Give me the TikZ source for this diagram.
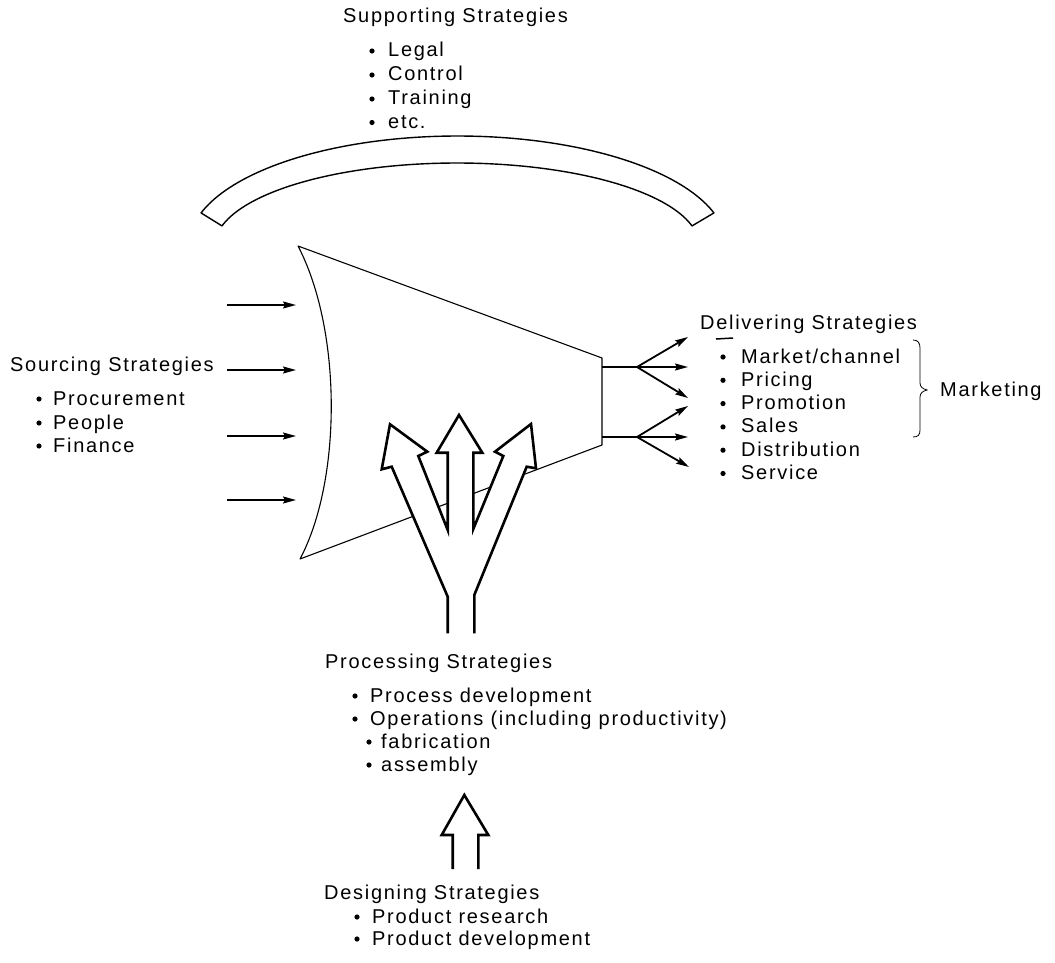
\documentclass[tikz,border=0pt]{standalone}
\usepackage{fontspec}
\setmainfont{Liberation Sans}[LetterSpace=8.5]
\usetikzlibrary{arrows.meta}

\begin{document}
\begin{tikzpicture}[x=1pt,y=-1pt,
  txt/.style={font=\fontsize{20}{23}\selectfont, inner sep=0pt, anchor=base west},
  feed/.style={line width=1.8pt, -{Stealth[length=13pt,width=7pt,inset=2pt]}},
  stub/.style={line width=1.8pt},
  thin line/.style={line width=1.1pt, line join=round},
  band/.style={line width=1.4pt, line join=round},
  fat arrow/.style={line width=2.6pt, fill=white, line join=miter, miter limit=10},
  bulletdot/.style={fill=black}
]
\useasboundingbox (0,0) rectangle (1055,963);

% ---------- supporting strategies ----------
\node[txt] (sup)  at (343,23)  {Supporting Strategies};
\node[txt] (sup1) at (388,57)  {Legal};
\node[txt] (sup2) at (388,81)  {Control};
\node[txt] (sup3) at (388,105) {Training};
\node[txt] (sup4) at (388,128.5) {etc.};
\foreach \y in {51,75,99,122.5} \fill[bulletdot] (372,\y) circle (2.6pt);

% arched band over the funnel
\draw[band]
  plot[domain=162.5:17.5, samples=90] ({457.5+268.9*cos(\x)},{246-110*sin(\x)})
  -- plot[domain=14:166, samples=90] ({457+242.2*cos(\x)},{246-83*sin(\x)})
  -- cycle;

% ---------- funnel ----------
\coordinate (ftl) at (298,246);
\coordinate (ftr) at (602,358);
\coordinate (fbr) at (602,445);
\coordinate (fbl) at (300,559);
\draw[thin line] (ftl) -- (ftr) -- (fbr) -- (fbl)
  .. controls (342,480) and (342,330) .. (ftl);

% ---------- sourcing strategies ----------
\node[txt] (src)  at (10,371.7) {Sourcing Strategies};
\node[txt] (src1) at (53,405)   {Procurement};
\node[txt] (src2) at (53,429)   {People};
\node[txt] (src3) at (53,452)   {Finance};
\foreach \y in {399,423,446} \fill[bulletdot] (39,\y) circle (2.6pt);

\coordinate (in1a) at (227,305); \coordinate (in1b) at (296,305);
\coordinate (in2a) at (227,370); \coordinate (in2b) at (296,370);
\coordinate (in3a) at (227,436); \coordinate (in3b) at (296,436);
\coordinate (in4a) at (227,500); \coordinate (in4b) at (296,500);
\draw[feed] (in1a) -- (in1b);
\draw[feed] (in2a) -- (in2b);
\draw[feed] (in3a) -- (in3b);
\draw[feed] (in4a) -- (in4b);

% ---------- outputs to delivering ----------
\coordinate (out1) at (602,367);
\coordinate (hub1) at (637,367);
\coordinate (d1) at (688,337);
\coordinate (d2) at (688,367);
\coordinate (d3) at (688,398);
\coordinate (out2) at (602,437);
\coordinate (hub2) at (637,437);
\coordinate (d4) at (688,406);
\coordinate (d5) at (688,437);
\coordinate (d6) at (689,467);
\draw[stub] (out1) -- (hub1);
\draw[stub] (out2) -- (hub2);
\foreach \t in {d1,d2,d3} \draw[feed] (hub1) -- (\t);
\foreach \t in {d4,d5,d6} \draw[feed] (hub2) -- (\t);

% ---------- delivering strategies ----------
\node[txt] (del)  at (700,329)   {Delivering Strategies};
\coordinate (mk1) at (716,339);
\coordinate (mk2) at (733,338);
\draw[line width=1.5pt] (mk1) -- (mk2);
\node[txt] (del1) at (741,363)   {Market/channel};
\node[txt] (del2) at (741,386.3) {Pricing};
\node[txt] (del3) at (741,409.6) {Promotion};
\node[txt] (del4) at (741,432.9) {Sales};
\node[txt] (del5) at (741,456.2) {Distribution};
\node[txt] (del6) at (741,479.5) {Service};
\foreach \y in {357,380.3,403.6,426.9,450.2,473.5} \fill[bulletdot] (723,\y) circle (2.6pt);

% brace grouping the marketing items
\draw[line width=0.8pt]
  (913,340) .. controls (918,340) and (920,343) .. (920,348)
  -- (920,383) .. controls (920,387) and (923,389) .. (927,390)
  .. controls (923,391) and (920,393) .. (920,397)
  -- (920,430) .. controls (920,435) and (918,437) .. (913,437);
\node[txt] (mkt) at (940,396) {Marketing};

% ---------- three-pronged arrow into the funnel ----------
\draw[fat arrow]
  (447.7,633.3) -- (447.7,596.7) -- (391.7,466.7) -- (381.7,469.3)
  -- (390,424.3) -- (427.3,451.7) -- (418.3,456) -- (447.7,530)
  -- (447.7,452.7) -- (436.7,452.7) -- (459,415) -- (482.3,452.7)
  -- (473.3,452.7) -- (473.3,529) -- (503.3,456) -- (495,451.7)
  -- (531,424) -- (536,468.3) -- (526.7,466.7) -- (474.3,595)
  -- (474.3,633.3);

% ---------- processing strategies ----------
\node[txt] (proc)  at (325,668) {Processing Strategies};
\node[txt] (proc1) at (370,702) {Process development};
\node[txt] (proc2) at (370,725) {Operations (including productivity)};
\node[txt] (proc3) at (381,748) {fabrication};
\node[txt] (proc4) at (381,771) {assembly};
\foreach \y in {696,719} \fill[bulletdot] (355,\y) circle (2.6pt);
\foreach \y in {742,765} \fill[bulletdot] (369,\y) circle (2.6pt);

% arrow from designing up to processing
\draw[fat arrow]
  (452.7,869) -- (452.7,835) -- (441.7,835) -- (464.3,795)
  -- (488.3,835) -- (478.3,835) -- (478.3,869);

% ---------- designing strategies ----------
\node[txt] (des)  at (324,899) {Designing Strategies};
\node[txt] (des1) at (372,923) {Product research};
\node[txt] (des2) at (372,945) {Product development};
\foreach \y in {917,939} \fill[bulletdot] (357,\y) circle (2.6pt);
\end{tikzpicture}
\end{document}
